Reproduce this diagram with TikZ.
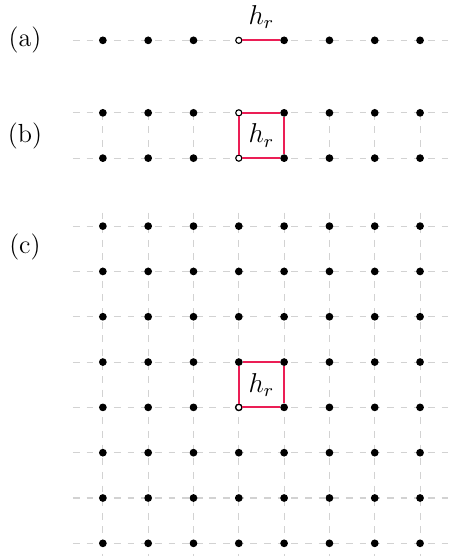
\documentclass[tikz,border=0pt]{standalone}
\definecolor{hred}{RGB}{235,30,85}

\begin{document}
\begin{tikzpicture}[x=0.7cm, y=0.7cm, font=\fontsize{11.5pt}{14pt}\selectfont,
  gridline/.style={dashed, gray!35, line width=0.45pt},
  dot/.style={circle, fill=black, inner sep=0pt, minimum size=3.4pt},
  opendot/.style={circle, draw=black, fill=white, inner sep=0pt, minimum size=2.7pt, line width=0.5pt},
  link/.style={hred, line width=0.85pt}]
  \useasboundingbox (-2.27,-7.28) rectangle (7.64,4.99);

  % (a) one row
  \draw[gridline] (-0.66,4.1) -- (7.66,4.1);
  \foreach \i in {0,1,2,4,5,6,7} \node[dot] (a\i) at (\i,4.1) {};
  \node[opendot] (a3) at (3,4.1) {};
  \draw[link] (a3) -- (a4);
  \node (ha) at (3.5,4.62) {$h_r$};
  \node (la) at (-1.72,4.1) {(a)};

  % (b) two rows
  \foreach \j/\y in {0/2.5, 1/1.5}
    \draw[gridline] (-0.66,\y) -- (7.66,\y);
  \foreach \i in {0,...,7}
    \draw[gridline] (\i,2.5) -- (\i,1.5);
  \foreach \j/\y in {0/2.5, 1/1.5}
    \foreach \i in {0,1,2,4,5,6,7}
      \node[dot] (b\i-\j) at (\i,\y) {};
  \node[opendot] (b3-0) at (3,2.5) {};
  \node[opendot] (b3-1) at (3,1.5) {};
  \draw[link] (b3-0) -- (b4-0) -- (b4-1) -- (b3-1) -- (b3-0);
  \node (hb) at (3.5,2.0) {$h_r$};
  \node (lb) at (-1.72,2.0) {(b)};

  % (c) full lattice
  \foreach \j in {0,...,7}
    \draw[gridline] (-0.66,-\j) -- (7.66,-\j);
  \foreach \i in {0,...,7}
    \draw[gridline] (\i,0.3) -- (\i,-7.3);
  \foreach \j in {0,...,7}
    \foreach \i in {0,...,7}
      \node[dot] (c\i-\j) at (\i,-\j) {};
  \node[opendot] (c3-4) at (3,-4) {};
  \draw[link] (c3-4) -- (c3-3) -- (c4-3) -- (c4-4) -- (c3-4);
  \node (hc) at (3.5,-3.5) {$h_r$};
  \node (lc) at (-1.72,-0.45) {(c)};
\end{tikzpicture}
\end{document}
